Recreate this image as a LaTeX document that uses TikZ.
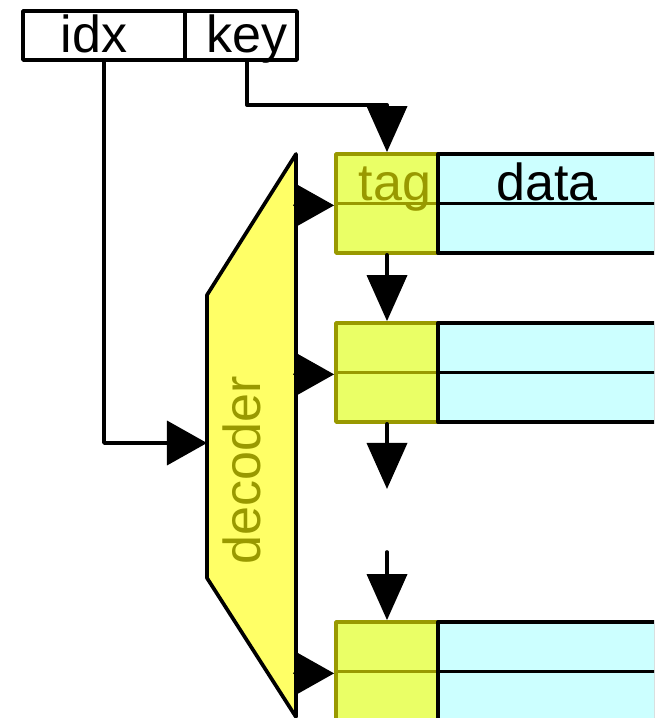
\documentclass[tikz,border=0pt]{standalone}
\usepackage{fontspec}
\setmainfont{Liberation Sans}
\usepackage{tikz}
\usetikzlibrary{arrows.meta}
\definecolor{ffff66}{rgb}{1.,1.,0.4}
\definecolor{eaff66}{rgb}{0.918,1.,0.4}
\definecolor{ccffff}{rgb}{0.8,1.,1.}
\definecolor{9999qq}{rgb}{0.6,0.6,0.}
\tikzstyle{every node}=[font=\fontsize{14.8}{17}\selectfont,inner sep=0pt]
\tikzstyle{hdr}=[draw=black,minimum height=0.49cm]
\tikzstyle{tagc}=[draw=9999qq,fill=eaff66,minimum width=1.02cm,minimum height=0.495cm]
\tikzstyle{datc}=[draw=black,fill=ccffff,minimum width=2.18cm,minimum height=0.495cm]
\tikzstyle{vtip}=[-{Triangle[length=4.6mm,width=4mm]}]
\tikzstyle{htip}=[-{Triangle[length=4mm,width=4.4mm]}]

\begin{document}
\begin{tikzpicture}[line cap=round,line join=round,line width=1.05pt,x=0.01cm,y=-0.01cm]
            \useasboundingbox (0,0) rectangle (654,718);
            \clip (0,0) rectangle (654,718);
            % address fields
            \node[hdr,minimum width=1.62cm] (idx) at (104,35.5) {};
            \node[hdr,minimum width=1.12cm] (key) at (241,35.5) {};
            \node[anchor=base] (idxlbl) at (94,52) {idx};
            \node[anchor=base] (keylbl) at (247,52) {key};
            % decoder
            \draw [fill=ffff66] (296,154) coordinate (decTop) -- (296,717) -- (207,578) -- (207,295) -- cycle;
            \node[rotate=90,anchor=base,text=9999qq] (dec) at (260,470) {decoder};
            \coordinate (decIn) at (207,443);
            % cache lines
            \foreach \r/\y in {1/154,2/323,3/622}{
                \node[tagc] (tag\r) at (387,\y+24.75) {};
                \node[tagc] (tagb\r) at (387,\y+74.25) {};
                \node[datc] (dat\r) at (547,\y+24.75) {};
                \node[datc] (datb\r) at (547,\y+74.25) {};
                \draw [htip] (decTop |- tag\r.south west) -- (tag\r.south west);
            }
            \node[anchor=base east,text=9999qq] (taglbl) at (433,200) {tag};
            \node[anchor=base] (datlbl) at (547,200) {data};
            % index and key
            \draw [htip] (idx.south) |- (decIn);
            \draw [vtip] ([xshift=0.06cm]key.south) |- ([yshift=0.47cm]tag1.north) -- (tag1.north);
            % compare chain
            \coordinate (gapA) at (387,489);
            \coordinate (gapB) at (387,552);
            \draw [vtip] (tagb1.south) -- (tag2.north);
            \draw [vtip] (tagb2.south) -- (gapA);
            \draw [vtip] (gapB) -- (tag3.north);
\end{tikzpicture}
\end{document}
